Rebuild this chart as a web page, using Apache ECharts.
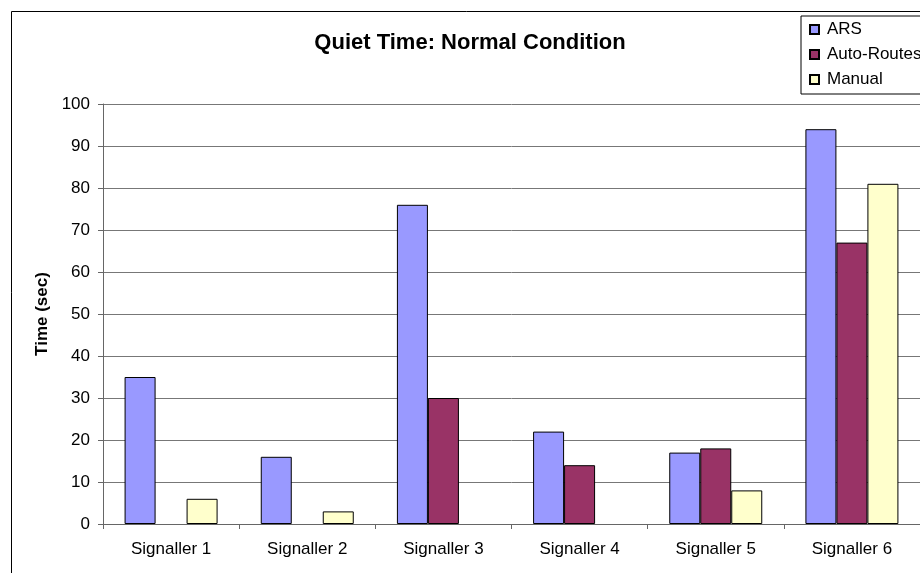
<!DOCTYPE html>
<html>
<head>
<meta charset="utf-8">
<script src="https://cdn.jsdelivr.net/npm/echarts@6/dist/echarts.min.js"></script>
<style>
html,body{margin:0;padding:0;background:#fff;}
#chart{width:920px;height:573px;}
</style>
</head>
<body>
<div id="chart"></div>
<script>
var categories = ['Signaller 1', 'Signaller 2', 'Signaller 3', 'Signaller 4', 'Signaller 5', 'Signaller 6'];
var arsValues = [35, 16, 76, 22, 17, 94];
var autoRoutesValues = [0, 0, 30, 14, 18, 67];
var manualValues = [6, 3, 0, 0, 8, 81];
var seriesNames = ['ARS', 'Auto-Routes', 'Manual'];
var yTicks = [0, 10, 20, 30, 40, 50, 60, 70, 80, 90, 100];

var FONT = 'Liberation Sans, Arial, sans-serif';
var chart = echarts.init(document.getElementById('chart'), null, {renderer: 'canvas'});

function barSeries(name, data, color) {
  return {
    name: name,
    type: 'bar',
    // zero-height bars are not drawn (no outline on the axis)
    data: data.map(function (v) { return v === 0 ? '-' : v; }),
    barWidth: 31,
    barGap: '0%',
    itemStyle: {color: color, borderColor: '#000', borderWidth: 1},
    emphasis: {disabled: true},
    animation: false
  };
}

chart.setOption({
  animation: false,
  backgroundColor: '#fff',
  textStyle: {fontFamily: FONT},
  title: {
    text: 'Quiet Time: Normal Condition',
    left: 470,
    textAlign: 'center',
    top: 32,
    padding: 0,
    textStyle: {fontFamily: FONT, fontSize: 22, fontWeight: 'bold', color: '#000'}
  },
  legend: {
    orient: 'vertical',
    left: 801,
    top: 16,
    padding: [5, 8, 6, 8],
    itemGap: 8,
    itemWidth: 9,
    itemHeight: 9,
    icon: 'rect',
    borderColor: '#000',
    borderWidth: 1,
    backgroundColor: '#fff',
    data: seriesNames,
    textStyle: {fontFamily: FONT, fontSize: 17, color: '#000', lineHeight: 17, padding: [0, 0, 0, 3]}
  },
  grid: {left: 103, top: 104, width: 820, height: 420, containLabel: false},
  xAxis: {
    type: 'category',
    data: categories,
    axisLine: {show: true, lineStyle: {color: '#666', width: 1}},
    axisTick: {show: true, length: 5, lineStyle: {color: '#666'}},
    axisLabel: {fontFamily: FONT, fontSize: 17, color: '#000', margin: 17}
  },
  yAxis: {
    type: 'value',
    min: 0,
    max: 100,
    interval: 10,
    name: 'Time (sec)',
    nameLocation: 'middle',
    nameGap: 52,
    nameTextStyle: {fontFamily: FONT, fontSize: 17, fontWeight: 'bold', color: '#000'},
    axisLine: {show: true, lineStyle: {color: '#666', width: 1}},
    axisTick: {show: true, length: 5, lineStyle: {color: '#666'}},
    axisLabel: {fontFamily: FONT, fontSize: 17, color: '#000', margin: 13,
      formatter: function (v) { return yTicks.indexOf(v) >= 0 ? String(v) : ''; }},
    splitLine: {show: true, lineStyle: {color: '#777', width: 1}}
  },
  graphic: [{
    type: 'rect',
    shape: {x: 11.5, y: 11.5, width: 1000, height: 1000},
    style: {fill: 'none', stroke: '#000', lineWidth: 1},
    silent: true,
    z: 100
  }],
  series: [
    barSeries(seriesNames[0], arsValues, '#9999FF'),
    barSeries(seriesNames[1], autoRoutesValues, '#993366'),
    barSeries(seriesNames[2], manualValues, '#FFFFCC')
  ]
});
</script>
</body>
</html>
